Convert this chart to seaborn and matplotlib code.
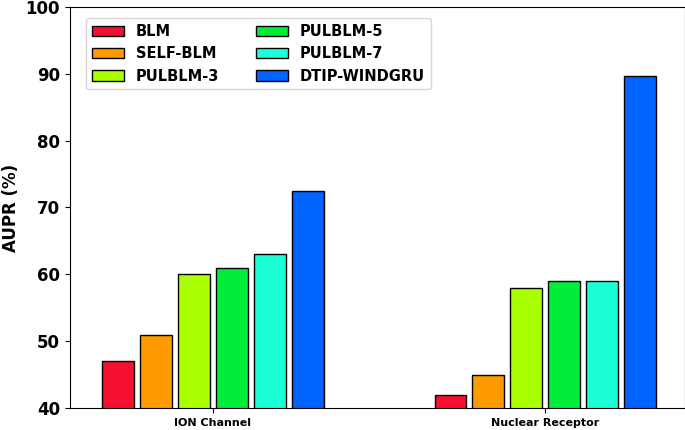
import matplotlib
matplotlib.use("Agg")
import matplotlib.pyplot as plt
import seaborn as sns
import pandas as pd

categories = ["ION Channel", "Nuclear Receptor"]
methods = ["BLM", "SELF-BLM", "PULBLM-3", "PULBLM-5", "PULBLM-7", "DTIP-WINDGRU"]
ion_values = [47, 51, 60, 61, 63, 72.5]
nr_values = [42, 45, 58, 59, 59, 89.7]
colors = ["#f5102f", "#ff9a00", "#aaff00", "#00ee3a", "#1affd5", "#0062ff"]

rows = []
for m, a, b in zip(methods, ion_values, nr_values):
    rows.append({"cat": categories[0], "method": m, "v": a})
    rows.append({"cat": categories[1], "method": m, "v": b})
df = pd.DataFrame(rows)

fig = plt.figure(figsize=(6.85, 4.30), dpi=100)
ax = fig.add_axes([0.102, 0.051, 0.898, 0.933])
sns.barplot(data=df, x="cat", y="v", hue="method", order=categories, hue_order=methods,
            palette=colors, saturation=1, width=0.685, gap=0.16, edgecolor="black",
            linewidth=1, ax=ax, legend=True)
ax.set_ylim(40, 100)
ax.set_xlim(-0.43, 1.42)
ax.set_xlabel("")
ax.set_ylabel("AUPR (%)", fontsize=12, fontweight="bold")
for t in ax.get_yticklabels():
    t.set_fontweight("bold"); t.set_fontsize(12)
for t in ax.get_xticklabels():
    t.set_fontweight("bold"); t.set_fontsize(8)
ax.legend(title=None, ncol=2, loc="upper left", bbox_to_anchor=(0.015, 0.99),
          prop={"weight": "bold", "size": 10.5},
          handlelength=2.2, columnspacing=2.5, frameon=True)
fig.savefig("out.png", dpi=100)
